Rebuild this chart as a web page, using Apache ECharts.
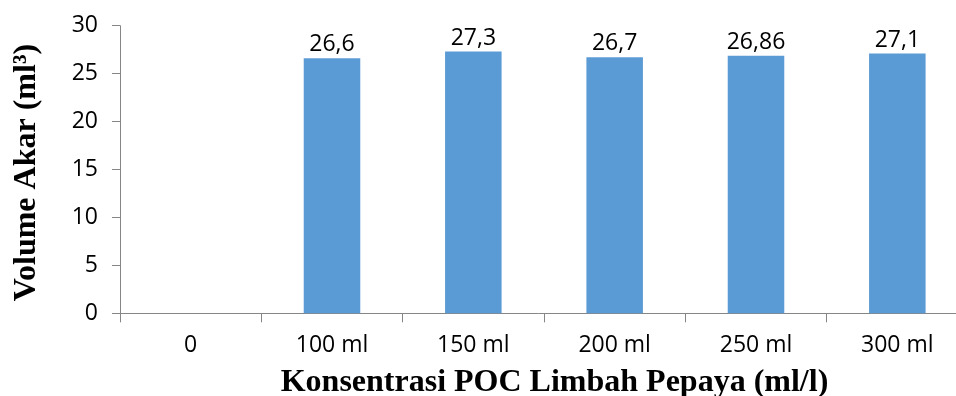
<!DOCTYPE html>
<html>
<head>
<meta charset="utf-8">
<script src="https://cdn.jsdelivr.net/npm/echarts@6/dist/echarts.min.js"></script>
<style>
html,body{margin:0;padding:0;background:#fff;}
#c{width:956px;height:396px;}
</style>
</head>
<body>
<div id="c"></div>
<script>
var categories = ['0', '100 ml', '150 ml', '200 ml', '250 ml', '300 ml'];
var values = [null, 26.6, 27.3, 26.7, 26.86, 27.1];
var yTicks = [0, 5, 10, 15, 20, 25, 30];
var xTitle = 'Konsentrasi POC Limbah Pepaya (ml/l)';
var yTitle = 'Volume Akar (ml³)';

var chart = echarts.init(document.getElementById('c'), null, {renderer: 'canvas'});
chart.setOption({
  animation: false,
  backgroundColor: '#ffffff',
  grid: {left: 120, width: 848, top: 25.7, height: 287.6, containLabel: false, outerBoundsMode: 'none'},
  xAxis: {
    type: 'category',
    data: categories,
    boundaryGap: true,
    name: xTitle,
    nameLocation: 'middle',
    nameGap: 53,
    nameTextStyle: {fontFamily: 'Liberation Serif', fontWeight: 'bold', fontSize: 32, color: '#000', padding: [0, 0, 0, 21]},
    axisLine: {lineStyle: {color: '#868686', width: 1}},
    axisTick: {show: true, length: 9, lineStyle: {color: '#868686'}},
    axisLabel: {fontFamily: 'Open Sans', fontSize: 23, color: '#000', margin: 21, interval: 0},
    splitLine: {show: false}
  },
  yAxis: {
    type: 'value',
    min: yTicks[0],
    max: yTicks[yTicks.length - 1],
    interval: 5,
    name: yTitle,
    nameLocation: 'middle',
    nameGap: 77,
    nameTextStyle: {fontFamily: 'Liberation Serif', fontWeight: 'bold', fontSize: 32, color: '#000', padding: [0, 6, 0, 0]},
    axisLine: {show: true, lineStyle: {color: '#868686', width: 1}},
    axisTick: {show: true, length: 8, lineStyle: {color: '#868686'}},
    axisLabel: {fontFamily: 'Open Sans', fontSize: 23, color: '#000', margin: 22},
    splitLine: {show: false}
  },
  series: [{
    type: 'bar',
    data: values,
    barWidth: '40%',
    itemStyle: {color: '#5B9BD5'},
    label: {
      show: true,
      position: 'top',
      distance: 2,
      fontFamily: 'Open Sans',
      fontSize: 23,
      color: '#000',
      formatter: function (p) { return p.value == null ? '' : String(p.value).replace('.', ','); }
    }
  }]
});
</script>
</body>
</html>
